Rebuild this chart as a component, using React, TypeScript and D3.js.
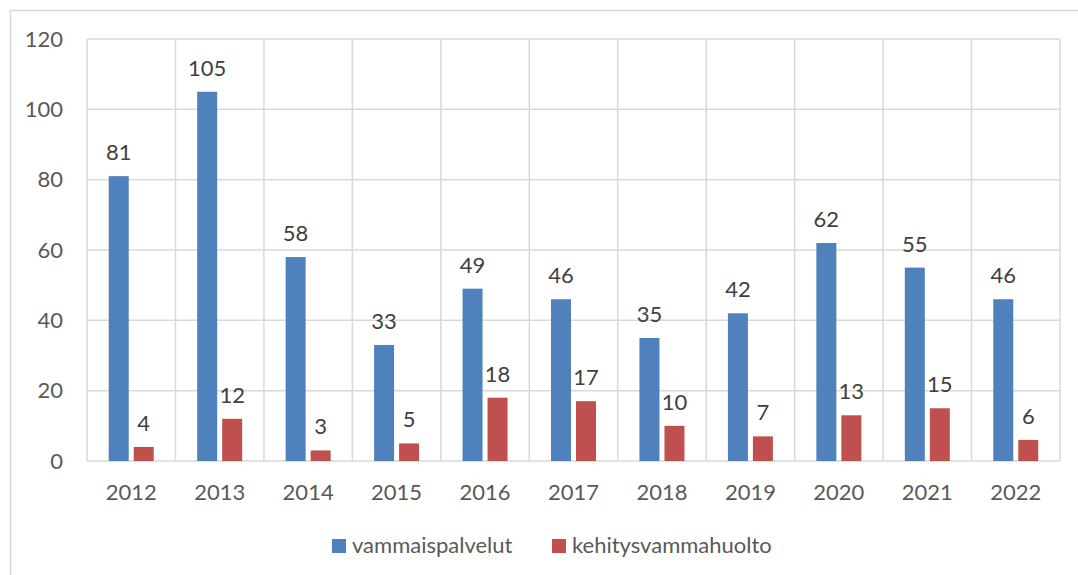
import React from "react";
import * as d3 from "d3";

const years = ["2012", "2013", "2014", "2015", "2016", "2017", "2018", "2019", "2020", "2021", "2022"];
const vammaispalvelut = [81, 105, 58, 33, 49, 46, 35, 42, 62, 55, 46];
const kehitysvammahuolto = [4, 12, 3, 5, 18, 17, 10, 7, 13, 15, 6];
const seriesNames = ["vammaispalvelut", "kehitysvammahuolto"];
const yTicks = [0, 20, 40, 60, 80, 100, 120];

const colors = ["#4F81BD", "#C0504D"];
const textColor = "#595959";
const gridColor = "#D9D9D9";
const font = "Lato, 'Open Sans', sans-serif";
const fs = 22;

const App = () => {
  const width = 1078;
  const height = 575;
  const margin = { top: 39, right: 18, bottom: 114, left: 87 };

  const x = d3.scaleBand().domain(years).range([margin.left, width - margin.right]);
  const y = d3.scaleLinear().domain([0, 120]).range([height - margin.bottom, margin.top]);
  const barW = 20;
  const gap = 5;

  const series = [vammaispalvelut, kehitysvammahuolto];

  return (
    <svg
      width={width}
      height={height}
      style={{ position: "absolute", left: 0, top: 0, fontFamily: font }}
    >
      <rect x={0} y={0} width={width} height={height} fill="#fff" />
      {/* outer chart border, cut off at right/bottom like the source */}
      <rect x={10.5} y={10.5} width={width + 10} height={height + 10} fill="none" stroke={gridColor} strokeWidth={1.5} />

      {/* horizontal gridlines */}
      {yTicks.map((t) => (
        <line key={"h" + t} x1={margin.left} x2={width - margin.right} y1={y(t)} y2={y(t)} stroke={gridColor} strokeWidth={1.5} />
      ))}
      {/* vertical category separators */}
      {years.map((yr) => (
        <line key={"v" + yr} x1={x(yr)!} x2={x(yr)!} y1={y(120)} y2={y(0)} stroke={gridColor} strokeWidth={1.5} />
      ))}
      <line x1={width - margin.right} x2={width - margin.right} y1={y(120)} y2={y(0)} stroke={gridColor} strokeWidth={1.5} />

      {/* y tick labels */}
      {yTicks.map((t) => (
        <text key={"yt" + t} x={63} y={y(t)} dy="0.35em" textAnchor="end" fontSize={fs} fill={textColor}>
          {t}
        </text>
      ))}

      {/* bars + labels */}
      {series.map((vals, si) =>
        years.map((yr, i) => {
          const cx = x(yr)! + x.bandwidth() / 2;
          const bx = si === 0 ? cx - gap / 2 - barW : cx + gap / 2;
          const v = vals[i];
          return (
            <g key={si + "-" + yr}>
              <rect x={bx} y={y(v)} width={barW} height={y(0) - y(v)} fill={colors[si]} />
              <text x={bx + barW / 2} y={y(v) - 16} textAnchor="middle" fontSize={fs} fill="#404040">
                {v}
              </text>
            </g>
          );
        })
      )}

      {/* x tick labels */}
      {years.map((yr) => (
        <text key={"xt" + yr} x={x(yr)! + x.bandwidth() / 2} y={500} textAnchor="middle" fontSize={fs} fill={textColor}>
          {yr}
        </text>
      ))}

      {/* legend */}
      <rect x={332} y={539} width={14} height={14} fill={colors[0]} />
      <text x={352} y={553} fontSize={fs} fill={textColor}>{seriesNames[0]}</text>
      <rect x={552} y={539} width={14} height={14} fill={colors[1]} />
      <text x={572} y={553} fontSize={fs} fill={textColor}>{seriesNames[1]}</text>
    </svg>
  );
};

export default App;
